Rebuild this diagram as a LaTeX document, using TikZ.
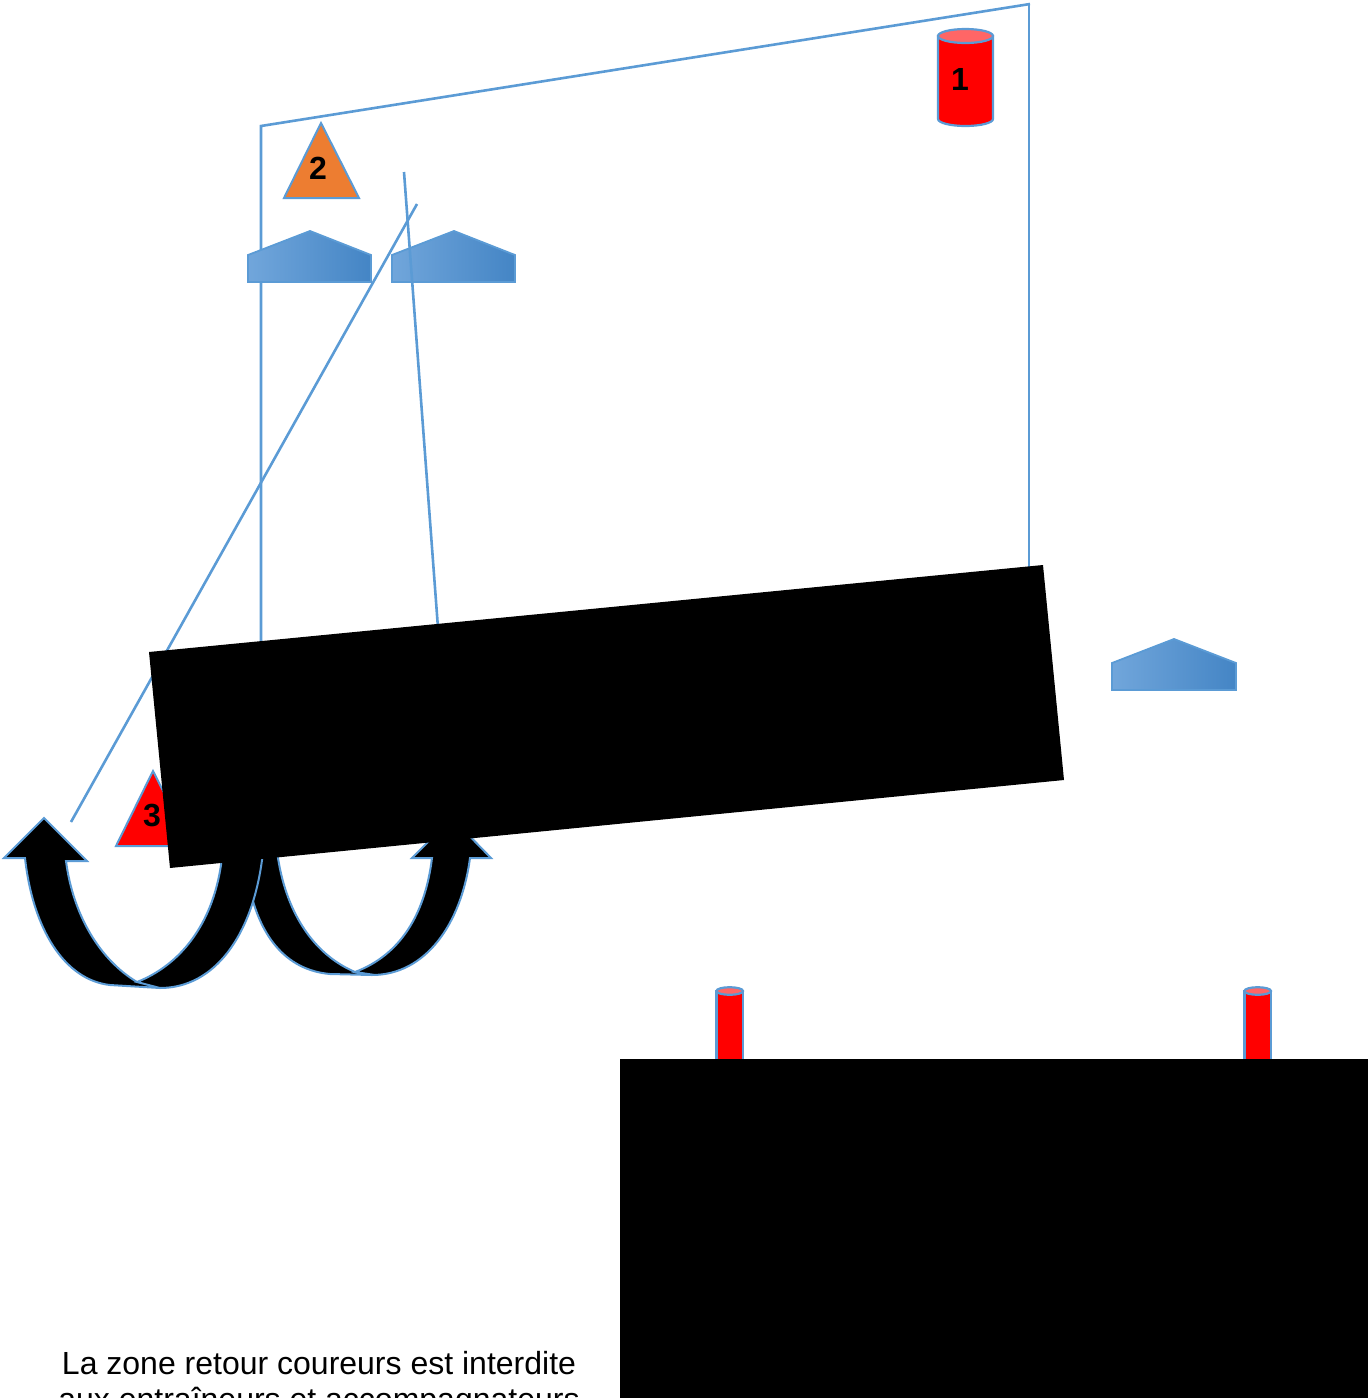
\documentclass[tikz,border=0pt]{standalone}
\usepackage{fontspec}
\setmainfont{Liberation Sans}
\definecolor{edge}{HTML}{5B9BD5}
\definecolor{hleft}{HTML}{71A6DB}
\definecolor{hright}{HTML}{4485C5}
\definecolor{capred}{HTML}{FF6666}
\definecolor{orangeT}{HTML}{ED7D31}
\tikzset{
  wire/.style={draw=edge,line width=2.6pt},
  house/.style={draw=edge,line width=1.8pt,left color=hleft,middle color=edge,right color=hright},
  tri/.style={draw=edge,line width=2pt,line join=miter},
  blackshape/.style={fill=black},
  curved/.style={fill=black,draw=edge,line width=2pt,line join=miter},
  cyl/.style={draw=edge,line width=2.2pt,fill=red},
  cylcap/.style={draw=edge,line width=2.2pt,fill=capred},
  num/.style={font=\fontsize{32}{32}\selectfont\bfseries,text=black,inner sep=0pt},
  caption/.style={font=\fontsize{32}{36}\selectfont,text=black,align=center,inner sep=0pt,anchor=north}
}
\begin{document}
\begin{tikzpicture}[x=1pt,y=-1pt]
\useasboundingbox (0,0) rectangle (1369,1398);
\clip (0,0) rectangle (1369,1398);
% course outline
\coordinate (tl) at (261,126);
\coordinate (tr) at (1030,4);
\coordinate (bl) at (261,645);
\coordinate (br) at (1029,570);
\draw[wire] (bl) -- (tl) -- (tr);
\draw[wire] (1029,4) -- (br);
% houses
\path[house] (248,282) -- (248,255) -- (310,231) -- (371,255) -- (371,282) -- cycle;
\path[house] (392,282) -- (392,255) -- (454,231) -- (515,255) -- (515,282) -- cycle;
\path[house] (1112,690) -- (1112,663) -- (1174,639) -- (1236,663) -- (1236,690) -- cycle;
% free lines
\coordinate (a1) at (404,172);
\coordinate (a2) at (438,628);
\coordinate (b1) at (417,204);
\coordinate (b2) at (71,822);
\draw[wire] (a1) -- (a2);
\draw[wire] (b1) -- (b2);
% triangles
\path[tri,fill=orangeT] (321,123) -- (359,198) -- (284,198) -- cycle;
\path[tri,fill=red] (153,771) -- (191,846) -- (116,846) -- cycle;
\node[num] (n2) at (318,168) {2};
\node[num] (n3) at (152,815) {3};
% cylinder 1
\path[cyl] (938,36) -- (938,119) arc[start angle=180,end angle=0,x radius=27.5,y radius=7] -- (993,36) -- cycle;
\path[cylcap] (965.5,36) ellipse[x radius=27.5,y radius=7];
\node[num] (n1) at (960,79) {1};
% small cylinders
\path[cyl] (716.5,991) rectangle (743,1062);
\path[cylcap] (729.7,991) ellipse[x radius=13.3,y radius=3.8];
\path[cyl] (1244.5,991) rectangle (1271,1062);
\path[cylcap] (1257.7,991) ellipse[x radius=13.3,y radius=3.8];
% curved arrows
\path[curved] (470,858) .. controls (461,925) and (425,975) .. (372,975)
  -- (330,974) .. controls (285,970) and (258,935) .. (248,880) -- (240,850) -- (276,850) -- (278,858)
  .. controls (287,915) and (315,955) .. (355,972) -- (375,975) -- (355,972)
  .. controls (400,955) and (425,915) .. (432,858) -- (412,858) -- (452,818) -- (491,858) -- cycle;
\path[curved] (44,818) -- (87,861) -- (66,861)
  .. controls (73,915) and (100,960) .. (137,982) -- (160,988) -- (137,982)
  .. controls (180,965) and (212,925) .. (221,865) -- (222,850) -- (264,850) -- (262,860)
  .. controls (252,935) and (215,988) .. (160,988)
  -- (110,985) .. controls (65,980) and (33,930) .. (25,858) -- (4,858) -- cycle;
% black slabs
\path[blackshape] (149,652) -- (1043,565) -- (1064,780) -- (170,868) -- cycle;
\path[blackshape] (620,1059) rectangle (1368,1398);
% caption
\node[caption] (cap) at (319,1351) {La zone retour coureurs est interdite\\aux entraîneurs et accompagnateurs};
\end{tikzpicture}
\end{document}
